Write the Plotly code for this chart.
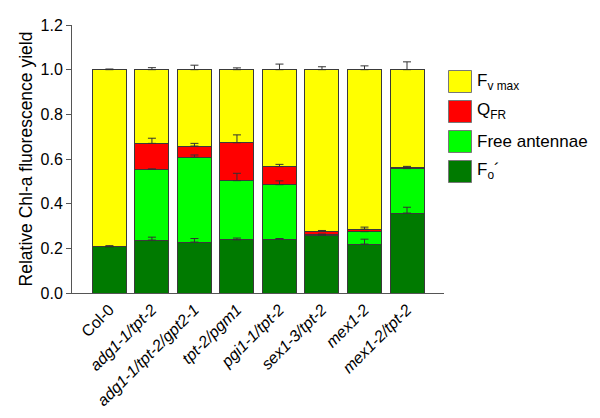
import numpy as np
import plotly.graph_objects as go

categories = ["Col-0", "<i>adg1-1/tpt-2</i>", "<i>adg1-1/tpt-2/gpt2-1</i>", "<i>tpt-2/pgm1</i>",
              "<i>pgi1-1/tpt-2</i>", "<i>sex1-3/tpt-2</i>", "<i>mex1-2</i>", "<i>mex1-2/tpt-2</i>"]

fo_vals   = [0.208, 0.237, 0.228, 0.238, 0.241, 0.258, 0.219, 0.358]
free_vals = [0.000, 0.316, 0.380, 0.265, 0.244, 0.005, 0.056, 0.199]
q_vals    = [0.000, 0.117, 0.050, 0.170, 0.081, 0.012, 0.011, 0.006]
fv_vals   = [0.792, 0.330, 0.342, 0.327, 0.434, 0.725, 0.714, 0.437]

fo_err   = [0.004, 0.013, 0.016, 0.008, 0.003, 0.004, 0.022, 0.026]
free_err = [0.000, 0.003, 0.010, 0.033, 0.017, 0.000, 0.000, 0.003]
q_err    = [0.000, 0.023, 0.012, 0.035, 0.010, 0.005, 0.009, 0.004]
fv_err   = [0.003, 0.009, 0.020, 0.008, 0.025, 0.013, 0.017, 0.035]

series = [
    ("F<sub>o</sub>´", fo_vals, fo_err, "#007A00"),
    ("Free antennae", free_vals, free_err, "#00FF00"),
    ("Q<sub>FR</sub>", q_vals, q_err, "#FF0000"),
    ("F<sub>v max</sub>", fv_vals, fv_err, "#FFFF00"),
]

FONT = "Arial, Liberation Sans, sans-serif"

fig = go.Figure()
for name, vals, err, col in series:
    fig.add_trace(go.Bar(x=categories, y=vals, name=name,
                         marker=dict(color=col, line=dict(color="#3a3a3a", width=1)),
                         showlegend=False))

cum = np.zeros(len(categories))
for name, vals, err, col in series:
    cum = cum + np.array(vals)
    fig.add_trace(go.Scatter(x=categories, y=cum, mode="markers",
                             marker=dict(size=1, color="rgba(0,0,0,0)"),
                             error_y=dict(type="data", array=err, arrayminus=[0]*len(err), symmetric=False,
                                          color="#333333", thickness=1, width=4),
                             showlegend=False, hoverinfo="skip"))

# custom legend (reversed order: top = F_v max); page pixel -> paper coords
def px_x(p):
    return (p - 72) / 372.0
def px_y(p):
    return (293 - p) / 268.0

legend_items = list(reversed(series))
for i, (name, vals, err, col) in enumerate(legend_items):
    top = 70.5 + 30 * i
    fig.add_shape(type="rect", xref="paper", yref="paper",
                  x0=px_x(448.5), x1=px_x(471.5), y0=px_y(top + 22), y1=px_y(top),
                  fillcolor=col, line=dict(color="#777777", width=1))
    fig.add_annotation(xref="paper", yref="paper", x=px_x(475), y=px_y(top + 11),
                       text=name, showarrow=False, xanchor="left", yanchor="middle",
                       font=dict(family=FONT, size=17, color="black"))

fig.update_layout(
    barmode="stack", bargap=0.2,
    width=592, height=410,
    margin=dict(l=64, r=156, t=17, b=125),
    plot_bgcolor="white", paper_bgcolor="white",
    font=dict(family=FONT, size=16, color="black"),
    xaxis=dict(range=[-0.88, 7.87], showline=True, linecolor="#555555", linewidth=1,
               ticks="", tickangle=-45, tickfont=dict(size=16), showgrid=False, automargin=False),
    yaxis=dict(range=[0, 1.2], dtick=0.2, tickformat=".1f", showline=True, linecolor="#555555", linewidth=1,
               ticks="outside", ticklen=5, tickcolor="#555555", showgrid=False, zeroline=False,
               title=dict(text="Relative Chl-a fluorescence yield", font=dict(size=17.5), standoff=3),
               tickfont=dict(size=16), automargin=False),
)

fig.write_html("out.html")
